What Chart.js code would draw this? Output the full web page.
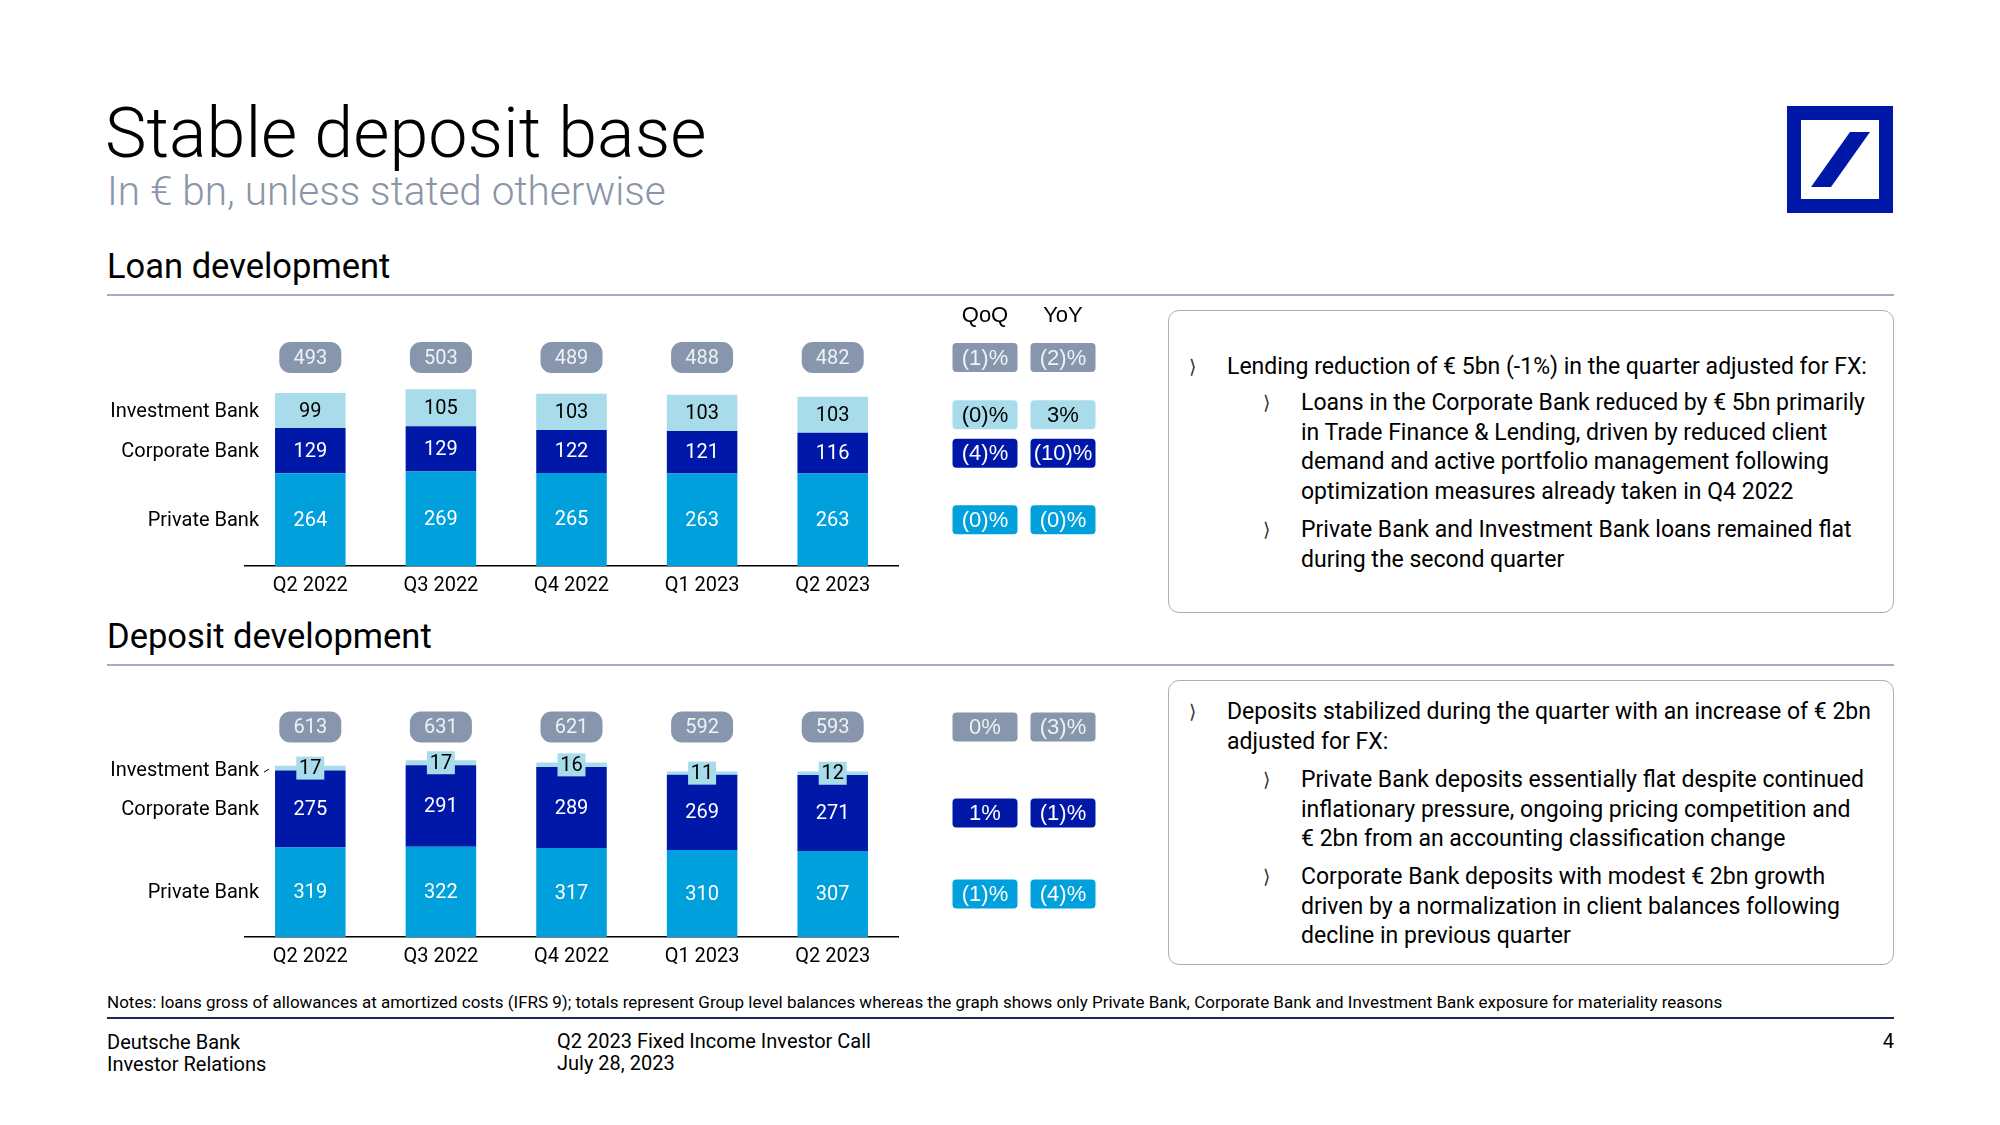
<!DOCTYPE html>
<html lang="en">
<head>
    <meta charset="UTF-8">
    <title>Stable deposit base</title>
    <script src="https://cdn.jsdelivr.net/npm/chart.js"></script>
    <style>
        body { margin: 0; background: #fff; font-family: Roboto, sans-serif; color: #000; }
        #page { position: relative; width: 2000px; height: 1125px; overflow: hidden; }
        .abs { position: absolute; white-space: nowrap; }
        .rule { position: absolute; height: 0; border-top: 2px solid #a3adbb; }
        .box { position: absolute; border: 1.5px solid #a8b0bc; border-radius: 11px; box-sizing: border-box; }
        .item { position: absolute; font-size: 23px; line-height: 29.5px; white-space: nowrap; }
        .bul { position: absolute; font-family: 'DejaVu Sans'; font-size: 19px; color: #333; line-height: 29.5px; }
        canvas { position: absolute; }
    </style>
</head>
<body>
<div id="page">
    <div class="abs" style="left:105px; top:94px; font-size:70px; font-weight:300; line-height:78px;">Stable deposit base</div>
    <div class="abs" style="left:107px; top:169px; font-size:40.5px; font-weight:300; color:#8a96a8; line-height:44px;">In € bn, unless stated otherwise</div>

    <svg class="abs" style="left:1787px; top:106px;" width="106" height="107">
        <rect x="7" y="7" width="92" height="93" fill="none" stroke="#0018a8" stroke-width="14"/>
        <polygon points="24,81 44,81 83,26 63,26" fill="#0018a8"/>
    </svg>

    <div class="abs" style="left:107px; top:247px; font-size:34.5px; line-height:38px;">Loan development</div>
    <div class="rule" style="left:107px; top:294px; width:1787px;"></div>
    <div class="abs" style="left:107px; top:617px; font-size:34.5px; line-height:38px;">Deposit development</div>
    <div class="rule" style="left:107px; top:664px; width:1787px;"></div>

    <canvas id="loanChart" width="1010" height="310" style="left:100px; top:300px;"></canvas>
    <canvas id="depChart" width="1010" height="300" style="left:100px; top:690px;"></canvas>

    <div class="box" style="left:1168px; top:310px; width:726px; height:303px;"></div>
    <div class="bul" style="left:1189px; top:352px;">⟩</div>
    <div class="item" style="left:1227px; top:352px;">Lending reduction of € 5bn (-1%) in the quarter adjusted for FX:</div>
    <div class="bul" style="left:1263px; top:388px;">⟩</div>
    <div class="item" style="left:1301px; top:388px;">Loans in the Corporate Bank reduced by € 5bn primarily<br>in Trade Finance &amp; Lending, driven by reduced client<br>demand and active portfolio management following<br>optimization measures already taken in Q4 2022</div>
    <div class="bul" style="left:1263px; top:515px;">⟩</div>
    <div class="item" style="left:1301px; top:515px;">Private Bank and Investment Bank loans remained flat<br>during the second quarter</div>

    <div class="box" style="left:1168px; top:680px; width:726px; height:285px;"></div>
    <div class="bul" style="left:1189px; top:697px;">⟩</div>
    <div class="item" style="left:1227px; top:697px;">Deposits stabilized during the quarter with an increase of € 2bn<br>adjusted for FX:</div>
    <div class="bul" style="left:1263px; top:765px;">⟩</div>
    <div class="item" style="left:1301px; top:765px;">Private Bank deposits essentially flat despite continued<br>inflationary pressure, ongoing pricing competition and<br>€ 2bn from an accounting classification change</div>
    <div class="bul" style="left:1263px; top:862px;">⟩</div>
    <div class="item" style="left:1301px; top:862px;">Corporate Bank deposits with modest € 2bn growth<br>driven by a normalization in client balances following<br>decline in previous quarter</div>

    <div class="abs" style="left:107px; top:993px; font-size:17px; line-height:19px;">Notes: loans gross of allowances at amortized costs (IFRS 9); totals represent Group level balances whereas the graph shows only Private Bank, Corporate Bank and Investment Bank exposure for materiality reasons</div>
    <div class="abs" style="left:107px; top:1017px; width:1787px; border-top:2px solid #1b2a4e;"></div>
    <div class="abs" style="left:107px; top:1031px; font-size:20px; line-height:22px;">Deutsche Bank<br>Investor Relations</div>
    <div class="abs" style="left:557px; top:1030px; font-size:20px; line-height:22px;">Q2 2023 Fixed Income Investor Call<br>July 28, 2023</div>
    <div class="abs" style="left:1870px; top:1030px; width:24px; text-align:right; font-size:20px; line-height:22px;">4</div>
</div>
<script>
    const quarters = ['Q2 2022', 'Q3 2022', 'Q4 2022', 'Q1 2023', 'Q2 2023'];
    const segments = ['Private Bank', 'Corporate Bank', 'Investment Bank'];

    const loanPB = [264, 269, 265, 263, 263];
    const loanCB = [129, 129, 122, 121, 116];
    const loanIB = [99, 105, 103, 103, 103];
    const loanTotals = [493, 503, 489, 488, 482];
    // rows: total, IB, CB, PB
    const loanQoQ = ['(1)%', '(0)%', '(4)%', '(0)%'];
    const loanYoY = ['(2)%', '3%', '(10)%', '(0)%'];

    const depPB = [319, 322, 317, 310, 307];
    const depCB = [275, 291, 289, 269, 271];
    const depIB = [17, 17, 16, 11, 12];
    const depTotals = [613, 631, 621, 592, 593];
    const depQoQ = ['0%', null, '1%', '(1)%'];
    const depYoY = ['(3)%', null, '(1)%', '(4)%'];

    const colPB = '#00a0dc';
    const colCB = '#0018a8';
    const colIB = '#a8dcea';
    const colGrey = '#8796ad';

    function badge(ctx, cx, cy, w, h, r, fill, text, textCol, font) {
        ctx.beginPath();
        ctx.roundRect(cx - w / 2, cy - h / 2, w, h, r);
        ctx.fillStyle = fill;
        ctx.fill();
        ctx.fillStyle = textCol;
        ctx.font = font;
        ctx.fillText(text, cx, cy + 1);
    }

    function slidePlugin(opts) {
        return {
            id: 'slide',
            afterDatasetsDraw(chart) {
                const ctx = chart.ctx;
                const top = chart.chartArea.top;
                const metas = [0, 1, 2].map(i => chart.getDatasetMeta(i));
                ctx.save();
                ctx.textAlign = 'center';
                ctx.textBaseline = 'middle';

                // values inside the bars
                metas.forEach((meta, di) => {
                    meta.data.forEach((bar, i) => {
                        const v = chart.data.datasets[di].data[i];
                        const y = (bar.y + bar.base) / 2;
                        if (di === 2 && opts.smallIB) {
                            badge(ctx, bar.x, y, 28, 23, 0, colIB, v, '#000', '20px Roboto');
                        } else {
                            ctx.fillStyle = di === 2 ? '#000' : '#fff';
                            ctx.font = '20px Roboto';
                            ctx.fillText(v, bar.x, y + 1);
                        }
                    });
                });

                // group totals
                metas[0].data.forEach((bar, i) => {
                    badge(ctx, bar.x, top + opts.totalY, 62, 31, 11, colGrey, opts.totals[i], '#eef1f5', '20px Roboto');
                });

                // segment names next to the first bar
                ctx.textAlign = 'right';
                ctx.fillStyle = '#000';
                ctx.font = '20px Roboto';
                const first = metas.map(m => m.data[0]);
                const labelX = first[0].x - first[0].width / 2 - 16;
                [2, 1, 0].forEach(di => {
                    const b = first[di];
                    let y = (b.y + b.base) / 2;
                    if (di === 2 && opts.smallIB) y += 2;
                    ctx.fillText(segments[di], labelX, y + 1);
                });
                if (opts.smallIB) {
                    const b = first[2];
                    ctx.strokeStyle = '#000';
                    ctx.lineWidth = 1;
                    ctx.beginPath();
                    ctx.moveTo(labelX + 5, (b.y + b.base) / 2 + 4);
                    ctx.lineTo(labelX + 10, (b.y + b.base) / 2 + 1);
                    ctx.stroke();
                }

                // QoQ / YoY columns, aligned with the last bar
                ctx.textAlign = 'center';
                const last = metas.map(m => m.data[m.data.length - 1]);
                const rowY = [top + opts.totalY,
                    (last[2].y + last[2].base) / 2,
                    (last[1].y + last[1].base) / 2,
                    (last[0].y + last[0].base) / 2];
                const fills = [colGrey, colIB, colCB, colPB];
                const inks = ['#eef1f5', '#000', '#fff', '#fff'];
                const qx = 885, yx = 963;
                if (opts.headers) {
                    ctx.fillStyle = '#000';
                    ctx.font = '22px "Liberation Sans"';
                    ctx.fillText('QoQ', qx, 16);
                    ctx.fillText('YoY', yx, 16);
                }
                rowY.forEach((y, r) => {
                    if (opts.qoq[r] === null) return;
                    badge(ctx, qx, y, 65, 29, 4, fills[r], opts.qoq[r], inks[r], '22px "Liberation Sans"');
                    badge(ctx, yx, y, 65, 29, 4, fills[r], opts.yoy[r], inks[r], '22px "Liberation Sans"');
                });
                ctx.restore();
            }
        };
    }

    function makeChart(id, pb, cb, ib, yMax, padBottom, plugin) {
        const ctx = document.getElementById(id).getContext('2d');
        return new Chart(ctx, {
            type: 'bar',
            data: {
                labels: quarters,
                datasets: [
                    { label: segments[0], data: pb, backgroundColor: colPB },
                    { label: segments[1], data: cb, backgroundColor: colCB },
                    { label: segments[2], data: ib, backgroundColor: colIB }
                ]
            },
            options: {
                responsive: false,
                animation: false,
                barPercentage: 0.54,
                categoryPercentage: 1.0,
                layout: { padding: { left: 145, right: 212, top: 0, bottom: padBottom } },
                plugins: { legend: { display: false }, tooltip: { enabled: false } },
                scales: {
                    x: {
                        stacked: true,
                        grid: { display: false, drawTicks: false },
                        border: { display: true, color: '#000', width: 1.5 },
                        ticks: { color: '#000', font: { family: 'Roboto', size: 20 }, padding: 8 },
                        afterFit(s) { s.height = 44; }
                    },
                    y: { stacked: true, display: false, min: 0, max: yMax }
                }
            },
            plugins: [plugin]
        });
    }

    makeChart('loanChart', loanPB, loanCB, loanIB, 757, 0, slidePlugin({
        totals: loanTotals, totalY: 57.5, qoq: loanQoQ, yoy: loanYoY, headers: true, smallIB: false
    }));
    makeChart('depChart', depPB, depCB, depIB, 881, 9, slidePlugin({
        totals: depTotals, totalY: 37, qoq: depQoQ, yoy: depYoY, headers: false, smallIB: true
    }));
</script>
</body>
</html>
